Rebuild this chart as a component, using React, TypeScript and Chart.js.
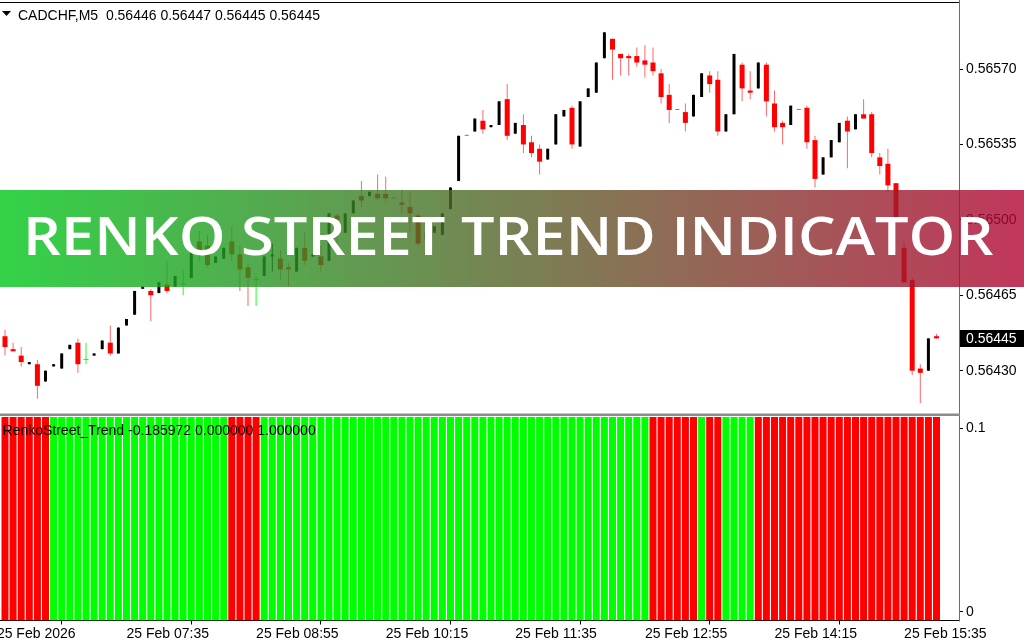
import { useEffect, useRef } from "react";
import { Chart, registerables } from "chart.js";

Chart.register(...registerables);

// ---------------- data ----------------
const SYMBOL_TITLE = "CADCHF,M5  0.56446 0.56447 0.56445 0.56445";
const INDICATOR_TITLE = "RenkoStreet_Trend -0.185972 0.000000 1.000000";
const BANNER_TEXT = "RENKO STREET TREND INDICATOR";

const opens = [
  0.56446, 0.5644, 0.56437, 0.56433, 0.56433, 0.56425, 0.56432, 0.56431, 0.5644, 0.56443,
  0.56435, 0.56437, 0.5644, 0.56443, 0.56438, 0.56451, 0.56456, 0.56468, 0.56467, 0.56466,
  0.5647, 0.56469, 0.5647, 0.56473, 0.5649, 0.56488, 0.5648, 0.56482, 0.5649, 0.56484,
  0.56478, 0.56472, 0.56474, 0.56483, 0.56482, 0.56478, 0.56476, 0.56487, 0.56483, 0.56483,
  0.56481, 0.56502, 0.56494, 0.56503, 0.56511, 0.56511, 0.56512, 0.56512, 0.5651, 0.56508,
  0.56506, 0.56502, 0.56491, 0.56494, 0.56493, 0.56505, 0.56518, 0.56539, 0.56541, 0.56546,
  0.56543, 0.56544, 0.56556, 0.5654, 0.56544, 0.56536, 0.56533, 0.56528, 0.56535, 0.56548,
  0.56552, 0.56534, 0.56557, 0.56559, 0.56575, 0.56584, 0.56577, 0.56576, 0.56576, 0.56574,
  0.56573, 0.56568, 0.56558, 0.56551, 0.5655, 0.56548, 0.56557, 0.56567, 0.56565, 0.56541,
  0.56549, 0.56572, 0.5656, 0.56561, 0.56572, 0.56554, 0.56545, 0.56544, 0.56551, 0.56552,
  0.56537, 0.56521, 0.56529, 0.56536, 0.56546, 0.56542, 0.56549, 0.56549, 0.56529, 0.56526,
  0.56517, 0.56487, 0.56472, 0.56431, 0.5643, 0.56446,
];
const highs = [
  0.56449, 0.56443, 0.56441, 0.56434, 0.56435, 0.5643, 0.56433, 0.56438, 0.56442, 0.56445,
  0.56443, 0.56438, 0.56444, 0.56451, 0.5645, 0.56454, 0.56467, 0.56469, 0.56468, 0.56471,
  0.56481, 0.56474, 0.56477, 0.56485, 0.56495, 0.56493, 0.56483, 0.56487, 0.56497, 0.56488,
  0.5648, 0.56474, 0.56483, 0.56489, 0.56486, 0.5648, 0.56487, 0.56494, 0.56484, 0.56488,
  0.56503, 0.56503, 0.56503, 0.56509, 0.56518, 0.56513, 0.56521, 0.5652, 0.5651, 0.56514,
  0.56513, 0.56503, 0.56494, 0.56497, 0.56503, 0.56515, 0.56539, 0.56539, 0.56547, 0.56551,
  0.56544, 0.56555, 0.56563, 0.56545, 0.56549, 0.56539, 0.56535, 0.56533, 0.56549, 0.56551,
  0.56553, 0.56555, 0.56561, 0.56573, 0.56587, 0.56584, 0.56577, 0.56577, 0.5658, 0.56581,
  0.5658, 0.5657, 0.56563, 0.56551, 0.56554, 0.56558, 0.56568, 0.56569, 0.56569, 0.56549,
  0.56577, 0.56573, 0.56569, 0.56573, 0.56573, 0.5656, 0.56546, 0.56553, 0.56551, 0.56553,
  0.56539, 0.56529, 0.56537, 0.56545, 0.56548, 0.56549, 0.56556, 0.5655, 0.56531, 0.56533,
  0.56517, 0.5649, 0.56473, 0.56433, 0.56445, 0.56447,
];
const lows = [
  0.56437, 0.56439, 0.56432, 0.56433, 0.56417, 0.56425, 0.56432, 0.56431, 0.5644, 0.56429,
  0.56433, 0.56437, 0.5644, 0.56437, 0.56438, 0.56451, 0.56456, 0.56468, 0.56453, 0.56466,
  0.56466, 0.56469, 0.56465, 0.56473, 0.56481, 0.56478, 0.5648, 0.56482, 0.56481, 0.56467,
  0.5646, 0.5646, 0.56474, 0.56476, 0.56472, 0.56469, 0.56476, 0.56479, 0.56483, 0.56476,
  0.56481, 0.56487, 0.56494, 0.56503, 0.56506, 0.56511, 0.56509, 0.56508, 0.5651, 0.56503,
  0.56494, 0.56488, 0.56491, 0.56494, 0.56493, 0.56505, 0.56518, 0.56539, 0.56541, 0.5654,
  0.56543, 0.56544, 0.56537, 0.5654, 0.56531, 0.56529, 0.56521, 0.56528, 0.56535, 0.56548,
  0.56533, 0.56534, 0.56557, 0.56559, 0.56575, 0.56565, 0.56567, 0.56567, 0.56571, 0.56566,
  0.56567, 0.56554, 0.56545, 0.56551, 0.56541, 0.56548, 0.56557, 0.56559, 0.56539, 0.56541,
  0.56549, 0.56555, 0.56556, 0.56561, 0.56548, 0.56541, 0.56535, 0.56544, 0.56551, 0.56533,
  0.56515, 0.56521, 0.56529, 0.56536, 0.56524, 0.56542, 0.56547, 0.56529, 0.56521, 0.56513,
  0.565, 0.56471, 0.56428, 0.56415, 0.5643, 0.56445,
];
const closes = [
  0.56441, 0.56439, 0.56434, 0.56434, 0.56423, 0.5643, 0.56433, 0.56438, 0.56442, 0.56433,
  0.56435, 0.56438, 0.56444, 0.56438, 0.5645, 0.56454, 0.56467, 0.56469, 0.56465, 0.56471,
  0.56467, 0.56474, 0.5647, 0.56485, 0.56486, 0.56479, 0.56483, 0.56487, 0.56484, 0.56477,
  0.56473, 0.56472, 0.56483, 0.56484, 0.56477, 0.56477, 0.56487, 0.56481, 0.56484, 0.56479,
  0.56503, 0.565, 0.56503, 0.56509, 0.56509, 0.56513, 0.5651, 0.5651, 0.5651, 0.56507,
  0.56503, 0.56489, 0.56494, 0.56497, 0.56503, 0.56515, 0.56539, 0.56539, 0.56547, 0.56542,
  0.56544, 0.56555, 0.56539, 0.56545, 0.56535, 0.56531, 0.56527, 0.56533, 0.56549, 0.56551,
  0.56535, 0.56555, 0.56561, 0.56573, 0.56587, 0.56579, 0.56575, 0.56575, 0.56573, 0.56572,
  0.56569, 0.56557, 0.56551, 0.56551, 0.56545, 0.56558, 0.56568, 0.56563, 0.56541, 0.56549,
  0.56577, 0.56561, 0.56559, 0.56573, 0.56555, 0.56543, 0.56543, 0.56553, 0.56551, 0.56536,
  0.56519, 0.56529, 0.56537, 0.56545, 0.56541, 0.56549, 0.56547, 0.56531, 0.56525, 0.56516,
  0.56501, 0.56471, 0.5643, 0.56429, 0.56445, 0.56445,
];
// RenkoStreet_Trend direction per bar: 1 = up (green), -1 = down (red)
const trend = [
  -1, -1, -1, -1, -1, -1, 1, 1, 1, 1,
  1, 1, 1, 1, 1, 1, 1, 1, 1, 1,
  1, 1, 1, 1, 1, 1, 1, 1, -1, -1,
  -1, -1, 1, 1, 1, 1, 1, 1, 1, 1,
  1, 1, 1, 1, 1, 1, 1, 1, 1, 1,
  1, 1, 1, 1, 1, 1, 1, 1, 1, 1,
  1, 1, 1, 1, 1, 1, 1, 1, 1, 1,
  1, 1, 1, 1, 1, 1, 1, 1, 1, 1,
  -1, -1, -1, -1, -1, -1, 1, -1, -1, 1,
  1, 1, 1, -1, -1, -1, -1, -1, -1, -1,
  -1, -1, -1, -1, -1, -1, -1, -1, -1, -1,
  -1, -1, -1, -1, -1, -1,
];
const timeTickIndex = [-1, 15, 31, 47, 63, 79, 95, 111];
const timeTickLabels = [
  "25 Feb 2026", "25 Feb 07:35", "25 Feb 08:55", "25 Feb 10:15",
  "25 Feb 11:35", "25 Feb 12:55", "25 Feb 14:15", "25 Feb 15:35",
];
const priceTicks = [0.5643, 0.56465, 0.565, 0.56535, 0.5657];
const subTicks = [0, 0.1];
const subTickLabels = ["0", "0.1"];

// ---------------- layout constants ----------------
const OFF = 16; // canvas starts at page x = -OFF
const CW = 1040;
const PLOT_LEFT = -6;
const PLOT_RIGHT = 959;
const FIRST_BAR_X = 5;
const BAR_STEP = 8.1;
const AXIS_W = CW - (PLOT_RIGHT + OFF);
const X_MIN = (PLOT_LEFT - FIRST_BAR_X) / BAR_STEP;
const X_MAX = (PLOT_RIGHT - FIRST_BAR_X) / BAR_STEP;

const MAIN_H = 416;
const MAIN_TOP = 3;
const MAIN_BOTTOM = 413;
const REF_PRICE = 0.5657;
const REF_Y = 69;
const PX_PER_UNIT = 215500;
const Y_MAX = REF_PRICE + (REF_Y - MAIN_TOP) / PX_PER_UNIT;
const Y_MIN = REF_PRICE - (MAIN_BOTTOM - REF_Y) / PX_PER_UNIT;

const SUB_TOP_PAGE = 416;
const SUB_H = 224;
const SUB_AREA_TOP = 417;
const SUB_AREA_BOTTOM = 620.5;
const SUB_K = (611.7 - 428.3) / 0.1;
const SUB_MAX = 0.1 + (428.3 - SUB_AREA_TOP) / SUB_K;
const SUB_MIN = -(SUB_AREA_BOTTOM - 611.7) / SUB_K;

const LABEL_FONT = '"Liberation Sans", Arial, sans-serif';

export default function App() {
  const mainRef = useRef<HTMLCanvasElement>(null);
  const subRef = useRef<HTMLCanvasElement>(null);

  useEffect(() => {
    const idx = opens.map((_, i) => i);
    const kind = idx.map((i) =>
      closes[i] > opens[i] ? "bull" : closes[i] < opens[i] ? "bear" : highs[i] > lows[i] ? "doji" : "flat"
    );
    const wickIdx = idx.filter((i) => kind[i] !== "flat");
    const bearIdx = idx.filter((i) => kind[i] === "bear");
    const bullIdx = idx.filter((i) => kind[i] === "bull");
    const dojiIdx = idx.filter((i) => kind[i] === "doji");
    const flatIdx = idx.filter((i) => kind[i] === "flat");

    const common = { grouped: false, borderWidth: 0, inflateAmount: 0, clip: 0 } as any;

    const mainDecor = {
      id: "mainDecor",
      afterDraw(chart: any) {
        const ctx = chart.ctx as CanvasRenderingContext2D;
        const area = chart.chartArea;
        const ys = chart.scales.y;
        ctx.save();
        // top frame line
        ctx.fillStyle = "#000";
        ctx.fillRect(0, 2, area.right, 1);
        // right axis line
        ctx.fillStyle = "#6e6e6e";
        ctx.fillRect(area.right, 0, 1, MAIN_H);
        // separator band
        ctx.fillStyle = "#8c8c8c";
        ctx.fillRect(0, 413.5, area.right + 1, 2.5);
        // current price box
        const last = closes.length - 1;
        const yc = ys.getPixelForValue(closes[last]);
        ctx.fillStyle = "#000";
        ctx.fillRect(area.right + 1, Math.round(yc - 8.5), CW - area.right, 17);
        ctx.fillStyle = "#fff";
        ctx.font = `14px ${LABEL_FONT}`;
        ctx.textBaseline = "middle";
        ctx.textAlign = "left";
        ctx.fillText(closes[last].toFixed(5), OFF + 966, yc + 0.5);
        // title
        ctx.fillStyle = "#000";
        ctx.beginPath();
        ctx.moveTo(OFF + 2, 11);
        ctx.lineTo(OFF + 11, 11);
        ctx.lineTo(OFF + 6.5, 16);
        ctx.closePath();
        ctx.fill();
        ctx.textBaseline = "alphabetic";
        ctx.fillText(SYMBOL_TITLE, OFF + 18, 19.5);
        // banner
        const g = ctx.createLinearGradient(OFF, 0, OFF + 1024, 0);
        g.addColorStop(0, "rgba(0,199,26,0.8)");
        g.addColorStop(0.25, "rgba(40,150,35,0.8)");
        g.addColorStop(0.5, "rgba(86,98,40,0.8)");
        g.addColorStop(0.72, "rgba(128,58,45,0.8)");
        g.addColorStop(1, "rgba(178,4,50,0.8)");
        ctx.fillStyle = g;
        ctx.fillRect(0, 190, CW, 97);
        ctx.font = `600 54px "Open Sans", "Noto Sans", sans-serif`;
        const m = ctx.measureText(BANNER_TEXT);
        const inkW = m.actualBoundingBoxLeft + m.actualBoundingBoxRight;
        const sx = (994 - 28.5) / inkW;
        const sy = 38.5 / m.actualBoundingBoxAscent;
        ctx.translate(OFF + 28.5 + m.actualBoundingBoxLeft * sx, 255);
        ctx.scale(sx, sy);
        ctx.fillStyle = "#fff";
        ctx.fillText(BANNER_TEXT, 0, 0);
        ctx.restore();
      },
    };

    const main = new Chart(mainRef.current as HTMLCanvasElement, {
      type: "bar",
      data: {
        datasets: [
          {
            ...common,
            order: 1,
            data: bearIdx.map((i) => ({ x: i, y: [closes[i], opens[i]] })),
            backgroundColor: "#ff0000",
            barThickness: 5,
            minBarLength: 1,
          },
          {
            ...common,
            order: 1,
            data: bullIdx.map((i) => ({ x: i, y: [opens[i], closes[i]] })),
            backgroundColor: "#000000",
            barThickness: 3,
            minBarLength: 1,
          },
          {
            ...common,
            order: 1,
            data: dojiIdx.map((i) => ({ x: i, y: [opens[i], closes[i]] })),
            backgroundColor: "#00ff00",
            barThickness: 5,
            minBarLength: 1,
          },
          {
            ...common,
            order: 1,
            data: flatIdx.map((i) => ({ x: i, y: [opens[i], closes[i]] })),
            backgroundColor: "#7a7a7a",
            barThickness: 4,
            minBarLength: 1,
          },
          {
            ...common,
            order: 3,
            data: wickIdx.map((i) => ({ x: i, y: [lows[i], highs[i]] })),
            backgroundColor: wickIdx.map((i) =>
              kind[i] === "bear" ? "rgba(255,0,0,0.6)" : kind[i] === "doji" ? "#22ff22" : "#000000"
            ),
            barThickness: 1,
            minBarLength: 1,
          },
        ] as any,
      },
      options: {
        animation: false,
        responsive: false,
        events: [],
        layout: { padding: { left: OFF + PLOT_LEFT, top: MAIN_TOP, right: 0, bottom: MAIN_H - MAIN_BOTTOM } },
        plugins: { legend: { display: false }, tooltip: { enabled: false } },
        scales: {
          x: { type: "linear", min: X_MIN, max: X_MAX, offset: false, display: false },
          y: {
            type: "linear",
            position: "right",
            min: Y_MIN,
            max: Y_MAX,
            border: { display: false },
            grid: { drawOnChartArea: false, drawTicks: true, tickLength: 4, color: "#000" },
            ticks: {
              padding: 3,
              color: "#000",
              font: { family: LABEL_FONT, size: 14 },
              callback: (v: any) => Number(v).toFixed(5),
            },
            afterBuildTicks: (s: any) => {
              s.ticks = priceTicks.map((v) => ({ value: v }));
            },
            afterFit: (s: any) => {
              s.width = AXIS_W;
              s.paddingTop = 0;
              s.paddingBottom = 0;
            },
          },
        },
      } as any,
      plugins: [mainDecor],
    });

    const subDecor = {
      id: "subDecor",
      afterDraw(chart: any) {
        const ctx = chart.ctx as CanvasRenderingContext2D;
        const area = chart.chartArea;
        ctx.save();
        ctx.fillStyle = "#6e6e6e";
        ctx.fillRect(area.right, 0, 1, area.bottom + 1);
        ctx.fillStyle = "#000";
        ctx.font = `14px ${LABEL_FONT}`;
        ctx.textBaseline = "alphabetic";
        ctx.textAlign = "left";
        ctx.fillText(INDICATOR_TITLE, OFF + 2.5, 435 - SUB_TOP_PAGE);
        ctx.restore();
      },
    };

    const sub = new Chart(subRef.current as HTMLCanvasElement, {
      type: "bar",
      data: {
        datasets: [
          {
            ...common,
            data: idx.map((i) => ({ x: i, y: Math.abs(trend[i]) })),
            backgroundColor: idx.map((i) => (trend[i] > 0 ? "#00ff00" : "#ff0000")),
            barThickness: 7,
            base: SUB_MIN,
          },
        ] as any,
      },
      options: {
        animation: false,
        responsive: false,
        events: [],
        layout: { padding: { left: OFF + PLOT_LEFT, top: SUB_AREA_TOP - SUB_TOP_PAGE, right: 0, bottom: 0 } },
        plugins: { legend: { display: false }, tooltip: { enabled: false } },
        scales: {
          x: {
            type: "linear",
            position: "bottom",
            min: X_MIN,
            max: X_MAX,
            offset: false,
            border: { display: true, color: "#000", width: 1 },
            grid: { drawOnChartArea: false, drawTicks: true, tickLength: 4, color: "#000" },
            ticks: {
              align: "start",
              padding: 1,
              maxRotation: 0,
              autoSkip: false,
              color: "#000",
              font: { family: LABEL_FONT, size: 14 },
              callback: (v: any) => {
                const k = timeTickIndex.indexOf(Number(v));
                return k >= 0 ? timeTickLabels[k] : "";
              },
            },
            afterBuildTicks: (s: any) => {
              s.ticks = timeTickIndex.map((v) => ({ value: v }));
            },
            afterFit: (s: any) => {
              s.height = SUB_H - (SUB_AREA_BOTTOM - SUB_TOP_PAGE);
              s.paddingLeft = 0;
              s.paddingRight = 0;
            },
          },
          y: {
            type: "linear",
            position: "right",
            min: SUB_MIN,
            max: SUB_MAX,
            border: { display: false },
            grid: { drawOnChartArea: false, drawTicks: true, tickLength: 4, color: "#000" },
            ticks: {
              padding: 3,
              color: "#000",
              font: { family: LABEL_FONT, size: 14 },
              callback: (v: any) => {
                const k = subTicks.indexOf(Number(v));
                return k >= 0 ? subTickLabels[k] : "";
              },
            },
            afterBuildTicks: (s: any) => {
              s.ticks = subTicks.map((v) => ({ value: v }));
            },
            afterFit: (s: any) => {
              s.width = AXIS_W;
              s.paddingTop = 0;
              s.paddingBottom = 0;
            },
          },
        },
      } as any,
      plugins: [subDecor],
    });

    return () => {
      main.destroy();
      sub.destroy();
    };
  }, []);

  return (
    <div
      style={{
        position: "fixed",
        left: 0,
        top: 0,
        width: 1024,
        height: 640,
        overflow: "hidden",
        background: "#fff",
      }}
    >
      <canvas
        ref={mainRef}
        width={CW}
        height={MAIN_H}
        style={{ position: "absolute", left: -OFF, top: 0, width: CW, height: MAIN_H }}
      />
      <canvas
        ref={subRef}
        width={CW}
        height={SUB_H}
        style={{ position: "absolute", left: -OFF, top: SUB_TOP_PAGE, width: CW, height: SUB_H }}
      />
    </div>
  );
}
